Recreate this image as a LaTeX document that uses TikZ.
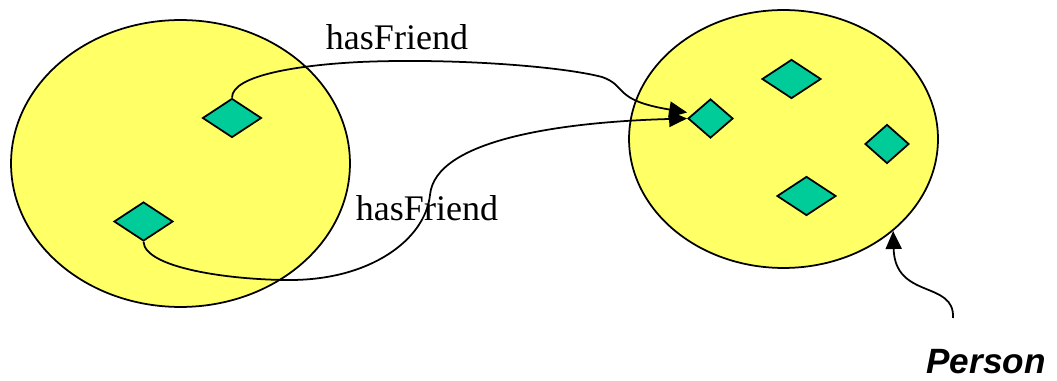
\documentclass[tikz,border=0pt]{standalone}
\usepackage{fontspec}
\setmainfont{Liberation Serif}
\newfontfamily\personfont{Liberation Sans}
\usetikzlibrary{shapes.geometric,arrows.meta}
\definecolor{setyellow}{HTML}{FFFF66}
\definecolor{itemgreen}{HTML}{00CC99}
\begin{document}
\begin{tikzpicture}[x=0.02cm, y=-0.02cm, line width=1pt,
    classset/.style={draw, ellipse, fill=setyellow, inner sep=0pt},
    individual/.style={draw, diamond, fill=itemgreen, inner sep=0pt, minimum width=1.18cm, minimum height=0.78cm},
    relarrow/.style={-{Triangle[length=0.36cm, width=0.32cm]}},
    rellabel/.style={font=\fontsize{20.5}{24}\selectfont, anchor=base}]
        \useasboundingbox (0,0) rectangle (1057,381);

        % Class sets (yellow ellipses)
        \node[classset, minimum width=6.78cm, minimum height=5.74cm] (S1) at (180.5,163.5) {};
        \node[classset, minimum width=6.18cm, minimum height=5.16cm] (S2) at (783.5,139) {};

        % Individuals in the left set
        \node[individual] (L1) at (232,118) {};
        \node[individual] (L2) at (143.5,221.5) {};

        % Individuals in the Person set
        \node[individual, minimum width=0.9cm] (R1) at (710.5,118.5) {};
        \node[individual] (R2) at (791.5,79) {};
        \node[individual, minimum width=0.88cm] (R3) at (887,144) {};
        \node[individual] (R4) at (806.5,196) {};

        % hasFriend edges
        \draw[relarrow] (L1.north) .. controls (232,75) and (300,65) .. (360,62)
            .. controls (450,58) and (560,66) .. (602,77)
            .. controls (628,86) and (612,100) .. ([yshift=0.12cm]R1.west);
        \draw[relarrow] (L2.south) .. controls (145,268) and (230,280) .. (290,280)
            .. controls (370,280) and (425,240) .. (430,195)
            .. controls (435,140) and (560,122) .. (R1.west);

        % Edge labels
        \node[rellabel] (F1) at (397,50) {hasFriend};
        \node[rellabel] (F2) at (427,221) {hasFriend};

        % Class name with pointer
        \node[font=\personfont\bfseries\itshape\fontsize{20}{24}\selectfont, anchor=base, inner sep=0pt, text depth=0pt] (P) at (986,373) {Person};
        \coordinate (Ptail) at (953,318);
        \draw[relarrow] (Ptail) .. controls (955,280) and (895,300) .. (S2.-40);
\end{tikzpicture}
\end{document}
